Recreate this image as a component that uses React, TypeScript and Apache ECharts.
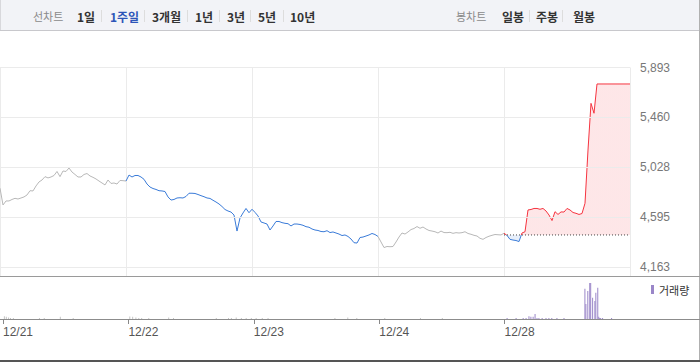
import React, { useEffect, useRef } from 'react';
import * as echarts from 'echarts';

// ---- data ----
const dayLabels = ['12/21', '12/22', '12/23', '12/24', '12/28'];
const STEPS = 42; // samples per trading day
const MINUTES_PER_DAY = 390;
const prevClose = 4440;
const upperLimitCap = 7000;
const yTicks = [4163, 4595, 5028, 5460, 5893];

const price1221 = [4846, 4700, 4735, 4735, 4748, 4758, 4752, 4761, 4770, 4787, 4824, 4822, 4865, 4900, 4917, 4946, 4935, 4943, 4956, 4991, 4946, 4995, 4991, 5021, 4986, 4965, 4943, 4943, 4965, 4973, 4952, 4940, 4926, 4908, 4891, 4874, 4917, 4887, 4891, 4882, 4913, 4911];
const price1222 = [4908, 4960, 4943, 4956, 4956, 4943, 4923, 4882, 4856, 4843, 4835, 4824, 4822, 4817, 4770, 4743, 4748, 4761, 4763, 4761, 4774, 4802, 4802, 4800, 4791, 4781, 4772, 4761, 4757, 4741, 4726, 4709, 4687, 4661, 4648, 4639, 4613, 4474, 4587, 4631, 4670, 4633];
const price1223 = [4663, 4636, 4605, 4553, 4544, 4535, 4483, 4518, 4557, 4557, 4547, 4541, 4538, 4518, 4535, 4535, 4531, 4524, 4512, 4507, 4492, 4483, 4479, 4470, 4468, 4477, 4461, 4466, 4457, 4448, 4435, 4440, 4427, 4405, 4373, 4370, 4418, 4422, 4431, 4440, 4453, 4444];
const price1224 = [4427, 4379, 4331, 4340, 4338, 4340, 4379, 4422, 4457, 4448, 4466, 4487, 4496, 4513, 4498, 4509, 4492, 4479, 4474, 4468, 4457, 4474, 4461, 4460, 4463, 4454, 4460, 4457, 4460, 4468, 4453, 4446, 4437, 4431, 4411, 4402, 4418, 4429, 4437, 4444, 4442, 4440];
const price1228 = [4455, 4436, 4402, 4396, 4392, 4383, 4457, 4468, 4657, 4661, 4670, 4670, 4663, 4670, 4648, 4613, 4565, 4642, 4618, 4640, 4639, 4670, 4657, 4635, 4628, 4618, 4626, 4715, 5177, 5582, 5496, 5750, 5750, 5750, 5750, 5750, 5750, 5750, 5750, 5750, 5750, 5750, 5750];

const volEarlyDay = [0, 0, 0, 0, 0, 0, 0, 0, 0, 1, 1, 1, 1, 1, 1, 1, 1, 1, 1, 1, 1, 1, 1, 1, 2, 2, 2, 2, 2, 2, 3, 3, 3];
const volEarlyMinute = [6, 12, 19, 25, 34, 115, 130, 180, 220, 6, 15, 25, 34, 43, 65, 127, 142, 275, 313, 322, 337, 353, 368, 384, 9, 28, 46, 254, 294, 322, 19, 130, 198];
const volEarlyAmount = [8, 6, 4, 3, 3, 3, 3, 6, 3, 7, 6, 4, 3, 3, 3, 4, 3, 3, 3, 3, 4, 3, 3, 3, 3, 3, 3, 3, 4, 3, 3, 3, 3];
const vol1228Minute = [6, 34, 56, 65, 74, 80, 87, 93, 99, 105, 115, 127, 136, 145, 161, 183, 248, 251, 257, 263, 266, 272, 279, 282, 288, 291, 294, 297, 303, 331];
const vol1228Amount = [3, 3, 3, 3, 8, 6, 6, 14, 3, 3, 3, 3, 3, 3, 3, 3, 84, 42, 78, 100, 100, 59, 50, 73, 87, 6, 3, 3, 3, 3];

const BLUE = '#3a7bd8';
const RED = '#f5333f';
const GRAY = '#b8b8b8';
const PURPLE = '#9a86c8';
const KR = '"Noto Sans CJK KR", "Noto Sans", sans-serif';
const NUM = '"Liberation Sans", Arial, sans-serif';
const X_END = 4.9999;

export default function App() {
  const ref = useRef<HTMLDivElement>(null);

  useEffect(() => {
    const chart = echarts.init(ref.current!, null, { renderer: 'svg' });
    const toPts = (arr: number[], d: number) => arr.map((v, i) => [d + i / STEPS, v]);

    const s1221 = [...toPts(price1221, 0), [1, price1222[0]]];
    const s2223 = [...toPts(price1222, 1), ...toPts(price1223, 2), [3, price1224[0]]];
    const s1224 = [...toPts(price1224, 3), [4, price1228[0]]];
    const s1228 = toPts(price1228, 4);
    const volEarly = volEarlyAmount.map((v, i) => [volEarlyDay[i] + volEarlyMinute[i] / MINUTES_PER_DAY, v]);
    const vol28 = vol1228Amount.map((v, i) => [4 + vol1228Minute[i] / MINUTES_PER_DAY, v]);

    const leftItems = [
      { t: '1일', x: 77 }, { t: '1주일', x: 110, sel: true }, { t: '3개월', x: 152 },
      { t: '1년', x: 195 }, { t: '3년', x: 227 }, { t: '5년', x: 258 }, { t: '10년', x: 290 },
    ];
    const rightItems = [{ t: '일봉', x: 502 }, { t: '주봉', x: 536 }, { t: '월봉', x: 573 }];
    const seps = [101, 144, 187, 219, 250, 283, 529, 562];

    const graphic: any[] = [
      { type: 'rect', silent: true, shape: { x: 0, y: 0, width: 699, height: 30 }, style: { fill: '#f2f3f7' } },
      { type: 'line', silent: true, shape: { x1: 0, y1: 30.5, x2: 700, y2: 30.5 }, style: { stroke: '#c8c8cc', lineWidth: 1 } },
      { type: 'line', silent: true, shape: { x1: 0.5, y1: 0, x2: 0.5, y2: 30 }, style: { stroke: '#d8d8dc', lineWidth: 1 } },
      { type: 'line', silent: true, shape: { x1: 699.5, y1: 0, x2: 699.5, y2: 362 }, style: { stroke: '#b0b0b0', lineWidth: 1 } },
      { type: 'line', silent: true, shape: { x1: 0, y1: 276.5, x2: 700, y2: 276.5 }, style: { stroke: '#9a9a9a', lineWidth: 1 } },
      { type: 'line', silent: true, shape: { x1: 0, y1: 319.5, x2: 700, y2: 319.5 }, style: { stroke: '#8c8c8c', lineWidth: 1 } },
      { type: 'line', silent: true, shape: { x1: 0, y1: 361, x2: 700, y2: 361 }, style: { stroke: '#555555', lineWidth: 2 } },
      { type: 'text', silent: true, x: 33, y: 16, style: { text: '선차트', fill: '#8a8a8a', font: `11px ${KR}`, verticalAlign: 'middle' } },
      { type: 'text', silent: true, x: 456, y: 16, style: { text: '봉차트', fill: '#8a8a8a', font: `11px ${KR}`, verticalAlign: 'middle' } },
      ...leftItems.concat(rightItems as any).map((it: any) => ({
        type: 'text', silent: true, x: it.x, y: 16,
        style: { text: it.t, fill: it.sel ? '#2d55b8' : '#333333', font: `bold 12px ${KR}`, verticalAlign: 'middle' },
      })),
      ...seps.map((x) => ({ type: 'line', silent: true, shape: { x1: x + 0.5, y1: 10, x2: x + 0.5, y2: 22 }, style: { stroke: '#dddddd', lineWidth: 1 } })),
    ];

    const lineBase = { type: 'line', xAxisIndex: 0, yAxisIndex: 0, showSymbol: false, symbol: 'none', silent: true };

    chart.setOption({
      animation: false,
      grid: [
        { left: 0, top: 67.5, width: 630, height: 208.5 },
        { left: 0, top: 277, width: 630, height: 42 },
      ],
      xAxis: [
        {
          type: 'value', gridIndex: 0, min: 0, max: X_END, interval: 1,
          axisLine: { show: false }, axisTick: { show: false }, axisLabel: { show: false },
          splitLine: { show: true, lineStyle: { color: '#ebebeb', width: 1 } },
        },
        {
          type: 'value', gridIndex: 1, min: 0, max: X_END, interval: 1,
          axisLine: { show: false },
          axisTick: { show: true, length: 5, lineStyle: { color: '#888' } },
          axisLabel: {
            show: true, align: 'left', margin: 7, showMaxLabel: false,
            color: '#555', fontSize: 12, fontFamily: NUM,
            formatter: (v: number) => dayLabels[Math.round(v)] ?? '',
          },
          splitLine: { show: false },
        },
      ],
      yAxis: [
        {
          type: 'value', gridIndex: 0, position: 'right', min: 4084, max: 5893,
          axisLine: { show: false }, axisTick: { show: false }, axisLabel: { show: false },
          splitLine: { show: false },
        },
        { type: 'value', gridIndex: 1, min: 0, max: 117, show: false, splitLine: { show: false } },
      ],
      legend: {
        data: [{ name: '거래량', icon: 'rect' }], left: 651, top: 284, padding: 0,
        itemWidth: 3, itemHeight: 9,
        textStyle: { fontSize: 11, color: '#333', fontFamily: KR },
      },
      visualMap: {
        show: false, type: 'piecewise', seriesIndex: 4, dimension: 1,
        pieces: [
          { lt: prevClose, color: BLUE },
          { gte: prevClose, lt: upperLimitCap, color: RED },
          { gte: upperLimitCap, color: RED },
        ],
      },
      graphic,
      series: [
        {
          ...lineBase, name: 'grid', data: [], z: 1,
          markLine: {
            silent: true, symbol: 'none', animation: false,
            lineStyle: { color: '#ebebeb', type: 'solid', width: 1 },
            label: {
              position: 'end', distance: 10, color: '#777', fontSize: 12, fontFamily: NUM,
              formatter: (p: any) => Math.round(p.value).toLocaleString('en-US'),
            },
            emphasis: { disabled: true },
            data: yTicks.map((v) => ({ yAxis: v })),
          },
        },
        { ...lineBase, name: 'p1221', data: s1221, lineStyle: { color: GRAY, width: 1 } },
        { ...lineBase, name: 'p2223', data: s2223, lineStyle: { color: BLUE, width: 1 } },
        { ...lineBase, name: 'p1224', data: s1224, lineStyle: { color: GRAY, width: 1 } },
        { ...lineBase, name: 'p1228', data: s1228, clip: false, lineStyle: { width: 1 }, areaStyle: { origin: prevClose, opacity: 0.12 } },
        {
          ...lineBase, name: 'prev', data: [[4, prevClose], [5, prevClose]], z: 5, clip: false,
          lineStyle: { color: '#444', width: 1, type: [1, 2] },
        },
        {
          type: 'bar', name: 'volEarly', xAxisIndex: 1, yAxisIndex: 1, data: volEarly,
          barWidth: 1, itemStyle: { color: '#c4c4c4' }, silent: true,
        },
        {
          type: 'bar', name: '거래량', xAxisIndex: 1, yAxisIndex: 1, data: vol28,
          barWidth: 1, itemStyle: { color: PURPLE }, silent: true,
        },
      ],
    });
    return () => chart.dispose();
  }, []);

  return <div ref={ref} style={{ position: 'fixed', left: 0, top: 0, width: 700, height: 362, background: '#fff' }} />;
}
